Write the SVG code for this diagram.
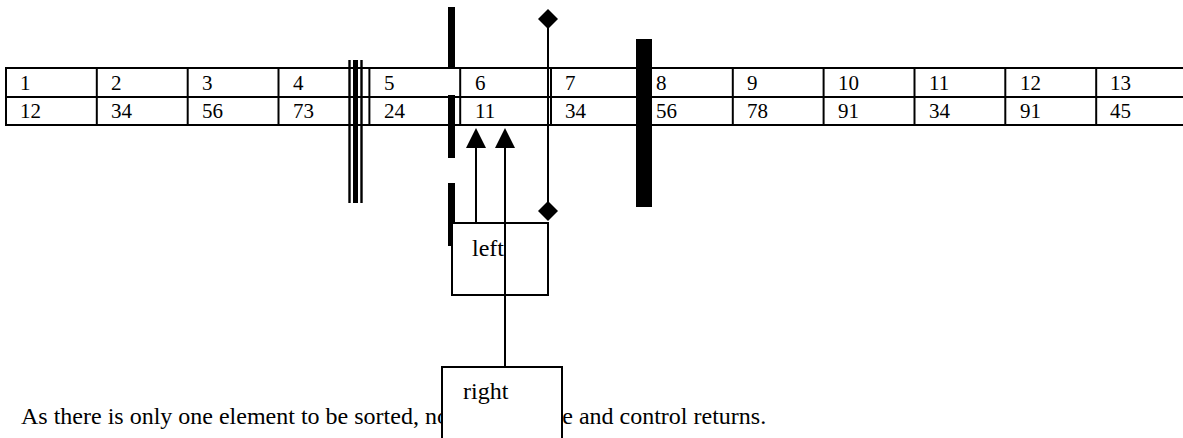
<svg xmlns="http://www.w3.org/2000/svg" width="1183" height="438" viewBox="0 0 1183 438" font-family="'Liberation Serif', 'Times New Roman', serif" font-size="21">
<style>
text{font-family:'Liberation Serif','Times New Roman',serif;font-size:21px;fill:#000}
text.big{font-size:24px}
.ln{stroke:#000;stroke-width:2;fill:none}
.box{stroke:#000;stroke-width:2;fill:#fff}
</style>
<rect width="1183" height="438" fill="#fff"/>
<text class="big" x="21" y="424">As there is only one element to be sorted, nothing is done and control returns.</text>
<g id="table">
<line class="ln" x1="6" y1="68" x2="1183" y2="68"/>
<line class="ln" x1="6" y1="97" x2="1183" y2="97"/>
<line class="ln" x1="6" y1="125" x2="1183" y2="125"/>
<line class="ln" x1="6" y1="67" x2="6" y2="126"/>
<line class="ln" x1="96.8" y1="67" x2="96.8" y2="126"/>
<line class="ln" x1="187.7" y1="67" x2="187.7" y2="126"/>
<line class="ln" x1="278.5" y1="67" x2="278.5" y2="126"/>
<line class="ln" x1="369.4" y1="67" x2="369.4" y2="126"/>
<line class="ln" x1="460.2" y1="67" x2="460.2" y2="126"/>
<line class="ln" x1="551" y1="67" x2="551" y2="126"/>
<line class="ln" x1="642" y1="67" x2="642" y2="126"/>
<line class="ln" x1="732.8" y1="67" x2="732.8" y2="126"/>
<line class="ln" x1="823.6" y1="67" x2="823.6" y2="126"/>
<line class="ln" x1="914.5" y1="67" x2="914.5" y2="126"/>
<line class="ln" x1="1005.3" y1="67" x2="1005.3" y2="126"/>
<line class="ln" x1="1096.2" y1="67" x2="1096.2" y2="126"/>
<text x="20" y="90">1</text><text x="20" y="118">12</text>
<text x="111" y="90">2</text><text x="111" y="118">34</text>
<text x="202" y="90">3</text><text x="202" y="118">56</text>
<text x="293" y="90">4</text><text x="293" y="118">73</text>
<text x="384" y="90">5</text><text x="384" y="118">24</text>
<text x="475" y="90">6</text><text x="475" y="118">11</text>
<text x="565" y="90">7</text><text x="565" y="118">34</text>
<text x="656" y="90">8</text><text x="656" y="118">56</text>
<text x="747" y="90">9</text><text x="747" y="118">78</text>
<text x="838" y="90">10</text><text x="838" y="118">91</text>
<text x="929" y="90">11</text><text x="929" y="118">34</text>
<text x="1020" y="90">12</text><text x="1020" y="118">91</text>
<text x="1110" y="90">13</text><text x="1110" y="118">45</text>
</g>
<g id="bars">
<rect x="348.3" y="60" width="2.4" height="143" fill="#000"/>
<rect x="353" y="60" width="5" height="143" fill="#000"/>
<rect x="360.3" y="60" width="2.4" height="143" fill="#000"/>
<rect x="448" y="7" width="7" height="62" fill="#000"/>
<rect x="448" y="95" width="7" height="63" fill="#000"/>
<rect x="448" y="183" width="7" height="63" fill="#000"/>
<rect x="636" y="39" width="16" height="168" fill="#000"/>
</g>
<g id="left">
<rect class="box" x="452" y="223" width="96" height="72"/>
<text class="big" x="472" y="256">left</text>
</g>
<g id="connectors">
<line class="ln" x1="548" y1="19" x2="548" y2="211"/>
<path d="M548,9 L558,19 L548,29 L538,19 Z" fill="#000"/>
<path d="M548,201 L558,211 L548,221 L538,211 Z" fill="#000"/>
<line class="ln" x1="476" y1="223" x2="476" y2="148"/>
<path d="M466,148 L476,128 L486,148 Z" fill="#000"/>
<line class="ln" x1="505" y1="366" x2="505" y2="148"/>
<path d="M495,148 L505,128 L515,148 Z" fill="#000"/>
</g>
<g id="right">
<rect class="box" x="442" y="367" width="120" height="80"/>
<text class="big" x="463" y="399">right</text>
</g>
</svg>
